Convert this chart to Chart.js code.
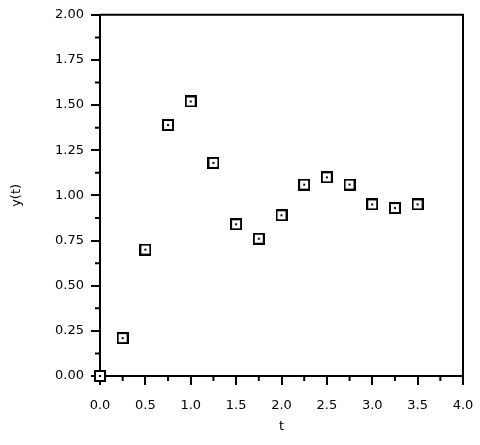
<!DOCTYPE html>
<html>
<head>
<meta charset="utf-8">
<script src="https://cdn.jsdelivr.net/npm/chart.js@4/dist/chart.umd.min.js"></script>
<style>
  body { margin: 0; background: #fff; }
</style>
</head>
<body>
<canvas id="chart" width="480" height="445"></canvas>
<script>
const tValues = [0, 0.25, 0.5, 0.75, 1.0, 1.25, 1.5, 1.75, 2.0, 2.25, 2.5, 2.75, 3.0, 3.25, 3.5];
const yValues = [0, 0.21, 0.70, 1.39, 1.52, 1.18, 0.84, 0.76, 0.89, 1.06, 1.10, 1.06, 0.95, 0.93, 0.95];
const xLabel = "t";
const yLabel = "y(t)";

const FONT = { family: "'DejaVu Sans', Arial, sans-serif", size: 13 };

// square marker with a dot in the middle
function makeMarker() {
  const c = document.createElement("canvas");
  c.width = 12;
  c.height = 12;
  const g = c.getContext("2d");
  g.fillStyle = "#fff";
  g.fillRect(0, 0, 12, 12);
  g.strokeStyle = "#000";
  g.lineWidth = 2;
  g.strokeRect(1, 1, 10, 10);
  g.fillStyle = "#000";
  g.fillRect(5, 5, 2, 2);
  return c;
}

// top/right frame lines and minor ticks
const framePlugin = {
  id: "frame",
  beforeDatasetsDraw(chart) {
    const { ctx, chartArea: a, scales } = chart;
    ctx.save();
    ctx.strokeStyle = "#000";
    ctx.lineWidth = 2;
    ctx.beginPath();
    ctx.moveTo(a.left, a.top);
    ctx.lineTo(a.right, a.top);
    ctx.lineTo(a.right, a.bottom);
    for (let v = 0.25; v < 4; v += 0.5) {
      const px = scales.x.getPixelForValue(v);
      ctx.moveTo(px, a.bottom);
      ctx.lineTo(px, a.bottom + 5);
    }
    for (let v = 0.125; v < 2; v += 0.25) {
      const py = scales.y.getPixelForValue(v);
      ctx.moveTo(a.left, py);
      ctx.lineTo(a.left - 5, py);
    }
    ctx.stroke();
    ctx.restore();
  },
};

new Chart(document.getElementById("chart"), {
  type: "scatter",
  data: {
    datasets: [
      {
        data: tValues.map((t, i) => ({ x: t, y: yValues[i] })),
        pointStyle: makeMarker(),
        clip: false,
      },
    ],
  },
  options: {
    responsive: false,
    animation: false,
    layout: { padding: { top: 13, right: 17, left: 0, bottom: 0 } },
    plugins: { legend: { display: false }, tooltip: { enabled: false } },
    scales: {
      x: {
        type: "linear",
        min: 0,
        max: 4,
        afterFit: (s) => {
          s.height = 69;
          s.paddingLeft = 0;
          s.paddingRight = 0;
        },
        border: { color: "#000", width: 2 },
        grid: { drawOnChartArea: false, color: "#000", lineWidth: 2, tickLength: 9 },
        ticks: { stepSize: 0.5, color: "#000", font: FONT, padding: 13, maxRotation: 0, callback: (v) => v.toFixed(1) },
        title: { display: true, text: xLabel, color: "#000", font: FONT, padding: { top: 0, bottom: 11 } },
      },
      y: {
        type: "linear",
        min: 0,
        max: 2,
        afterFit: (s) => { s.width = 100; },
        border: { color: "#000", width: 2 },
        grid: { drawOnChartArea: false, color: "#000", lineWidth: 2, tickLength: 9 },
        ticks: { stepSize: 0.25, color: "#000", font: FONT, padding: 7, callback: (v) => v.toFixed(2) },
        title: { display: true, text: yLabel, color: "#000", font: FONT, padding: { top: 9, bottom: 0 } },
      },
    },
  },
  plugins: [framePlugin],
});
</script>
</body>
</html>
